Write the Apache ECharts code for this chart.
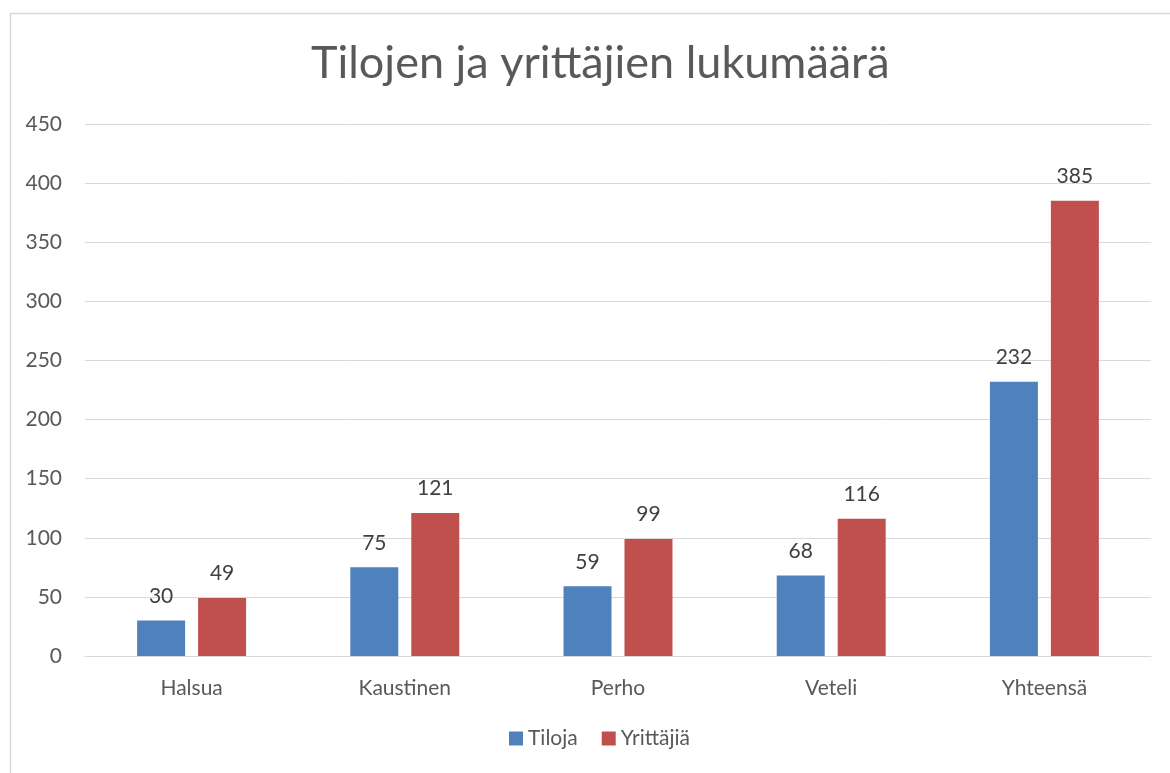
<!DOCTYPE html>
<html>
<head>
<meta charset="utf-8">
<script src="https://cdn.jsdelivr.net/npm/echarts@6/dist/echarts.min.js"></script>
<style>
html,body{margin:0;padding:0;background:#fff;}
#c{width:1170px;height:773px;}
</style>
</head>
<body>
<div id="c"></div>
<script>
const title = 'Tilojen ja yrittäjien lukumäärä';
const categories = ['Halsua', 'Kaustinen', 'Perho', 'Veteli', 'Yhteensä'];
const tiloja = [30, 75, 59, 68, 232];
const yrittajia = [49, 121, 99, 116, 385];
const seriesNames = ['Tiloja', 'Yrittäjiä'];

const FONT = 'Lato, "Open Sans", sans-serif';
const chart = echarts.init(document.getElementById('c'), null, {renderer: 'canvas'});
const labelCfg = {show: true, position: 'top', distance: 14, color: '#404040', fontSize: 21, fontFamily: FONT};
chart.setOption({
  animation: false,
  backgroundColor: '#fff',
  textStyle: {fontFamily: FONT},
  graphic: [{
    type: 'rect', left: 8, top: 11, silent: true,
    shape: {width: 1300, height: 900},
    style: {fill: 'none', stroke: '#d9d9d9', lineWidth: 1.5}
  }],
  title: {
    text: title, left: 306, top: 36,
    textStyle: {fontSize: 45, fontWeight: 'normal', color: '#595959', fontFamily: FONT}
  },
  legend: {
    data: seriesNames, bottom: 19, left: 504,
    itemWidth: 14, itemHeight: 14, itemGap: 24,
    textStyle: {fontSize: 21, color: '#595959', fontFamily: FONT},
    icon: 'rect'
  },
  grid: {left: 85, right: 19, top: 124, bottom: 117, containLabel: false},
  xAxis: {
    type: 'category', data: categories,
    axisLine: {lineStyle: {color: '#d9d9d9', width: 1}},
    axisTick: {show: false},
    axisLabel: {color: '#595959', fontSize: 21, margin: 22, fontFamily: FONT}
  },
  yAxis: {
    type: 'value', min: 0, max: 450, interval: 50,
    axisLine: {show: false}, axisTick: {show: false},
    splitLine: {lineStyle: {color: '#d9d9d9', width: 1}},
    axisLabel: {color: '#595959', fontSize: 21, margin: 23, fontFamily: FONT}
  },
  series: [
    {name: seriesNames[0], type: 'bar', data: tiloja, barWidth: 48, barGap: '27%',
     itemStyle: {color: '#4F81BD'}, label: labelCfg},
    {name: seriesNames[1], type: 'bar', data: yrittajia, barWidth: 48,
     itemStyle: {color: '#C0504D'}, label: labelCfg}
  ]
});
</script>
</body>
</html>
